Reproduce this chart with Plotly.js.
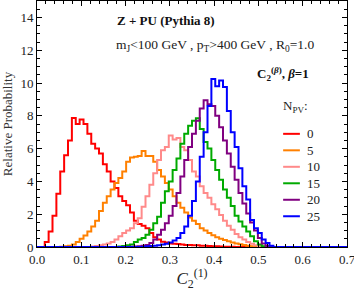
<!DOCTYPE html>
<html>
<head>
<meta charset="utf-8">
<script src="https://cdn.plot.ly/plotly-3.0.1.min.js"></script>
<style>html,body{margin:0;padding:0;background:#fff;}#chart{width:354px;height:291px;}</style>
</head>
<body>
<div id="chart"></div>
<script>
// Histogram: 80 bins on [0, 0.7]
const binWidth = 0.00875;
const nBins = 80;
const seriesNames = ["0", "5", "10", "15", "20", "25"];
const seriesColors = ["#ff0000", "#ff8000", "#ff8a8a", "#00aa00", "#800080", "#0000ff"];

const npv0 = [0,0,0.3,0.95,1.9,3.25,4.6,5.6,6.5,7.87,7.5,7.77,7.5,6.9,6.3,6.0,5.7,5.05,4.6,4.0,3.6,3.1,2.8,2.55,2.1,1.6,1.4,1.3,1.15,0.85,0.6,0.45,0.32,0.28,0.22,0.2,0.18,0.15,0.12,0.12,0.1,0.1,0.08,0.08,0.06,0.05,0.04,0.03,0.02,0.02,0.01,0,0,0,0,0,0,0,0,0,0,0,0,0,0,0,0,0,0,0,0,0,0,0,0,0,0,0,0,0];
const npv5 = [0,0,0,0,0,0,0.02,0.04,0.08,0.15,0.3,0.5,0.7,0.95,1.25,1.6,2.2,2.7,3.1,3.5,3.9,4.2,4.6,5.2,5.45,5.5,5.55,5.85,5.55,5.55,5.2,4.7,4.3,3.9,3.5,3.1,2.7,2.4,2.1,1.8,1.6,1.4,1.15,1.0,0.85,0.72,0.6,0.5,0.42,0.35,0.28,0.22,0.17,0.12,0.08,0.05,0.03,0.02,0,0,0,0,0,0,0,0,0,0,0,0,0,0,0,0,0,0,0,0,0,0];
const npv10 = [0,0,0,0,0,0,0,0,0,0,0,0,0,0,0.03,0.06,0.1,0.15,0.22,0.3,0.45,0.65,0.85,1.0,1.15,1.45,1.75,2.45,3.1,3.8,4.5,5.3,5.9,6.1,6.8,6.55,6.65,6.1,5.9,5.3,4.6,4.3,3.7,3.3,3.0,2.6,2.3,1.95,1.6,1.3,1.05,0.8,0.6,0.45,0.3,0.2,0.1,0.05,0.02,0,0,0,0,0,0,0,0,0,0,0,0,0,0,0,0,0,0,0,0,0];
const npv15 = [0,0,0,0,0,0,0,0,0,0,0,0,0,0,0,0,0,0,0,0,0,0.03,0.06,0.1,0.15,0.3,0.45,0.55,0.75,1.05,1.45,1.85,2.7,3.4,4.0,4.7,5.4,6.3,6.9,7.4,7.7,7.85,7.2,6.4,6.0,5.3,4.7,4.1,3.5,3.0,2.5,1.9,1.55,1.25,0.95,0.65,0.35,0.15,0.05,0,0,0,0,0,0,0,0,0,0,0,0,0,0,0,0,0,0,0,0,0];
const npv20 = [0,0,0,0,0,0,0,0,0,0,0,0,0,0,0,0,0,0,0,0,0,0,0,0,0.02,0.03,0.05,0.08,0.12,0.25,0.45,0.75,1.05,1.45,1.9,2.5,3.3,4.3,5.3,6.1,6.9,7.7,8.45,8.95,8.7,8.6,8.0,7.3,6.5,5.7,4.9,4.1,3.3,2.65,2.05,1.5,1.0,0.55,0.22,0.06,0,0,0,0,0,0,0,0,0,0,0,0,0,0,0,0,0,0,0,0];
const npv25 = [0,0,0,0,0,0,0,0,0,0,0,0,0,0,0,0,0,0,0,0,0,0,0,0,0,0,0,0,0.04,0.06,0.08,0.1,0.15,0.2,0.28,0.4,0.55,0.85,1.25,1.9,2.8,4.0,5.5,7.0,8.6,10.25,9.8,10.15,9.75,8.3,7.0,6.1,4.8,3.7,2.9,1.65,1.15,0.85,0.45,0.25,0.08,0,0,0,0,0,0,0,0,0,0,0,0,0,0,0,0,0,0,0];

const allSeries = [npv0, npv5, npv10, npv15, npv20, npv25];

const edges = [];
for (let k = 0; k <= nBins; k++) edges.push(+(k * binWidth).toFixed(5));

const serif = "Liberation Serif, Times New Roman, serif";

const traces = allSeries.map((vals, i) => ({
  type: "scatter",
  mode: "lines",
  x: edges,
  y: vals.concat([vals[vals.length - 1]]),
  line: { shape: "hv", color: seriesColors[i], width: 2 },
  name: seriesNames[i],
  showlegend: false,
  hoverinfo: "skip"
}));

const axisCommon = {
  showline: true, linecolor: "#000", linewidth: 1, mirror: "allticks",
  ticks: "inside", ticklen: 5, tickwidth: 1, tickcolor: "#000",
  showgrid: false, zeroline: false, ticklabeloverflow: "allow",
  tickfont: { family: serif, size: 13, color: "#222" }
};

// legend drawn as paper-positioned keys
const legendX0 = 0.794, legendX1 = 0.848, legendTextX = 0.864;
const legendTopY = 0.46, legendStep = 0.067;
const legendShapes = seriesNames.map((n, i) => ({
  type: "line", xref: "paper", yref: "paper",
  x0: legendX0, x1: legendX1,
  y0: legendTopY - i * legendStep, y1: legendTopY - i * legendStep,
  line: { color: seriesColors[i], width: 2 }
}));
const legendLabels = seriesNames.map((n, i) => ({
  text: n, xref: "paper", yref: "paper", x: legendTextX, y: legendTopY - i * legendStep,
  xanchor: "left", yanchor: "middle", showarrow: false,
  font: { family: serif, size: 13, color: "#222" }
}));

const layout = {
  width: 354, height: 291,
  margin: { l: 37, r: 7, t: 1, b: 44 },
  paper_bgcolor: "#fff", plot_bgcolor: "#fff",
  showlegend: false,
  xaxis: Object.assign({}, axisCommon, {
    range: [0, 0.7], dtick: 0.1, tickformat: ".1f",
    minor: { dtick: 0.02, ticks: "inside", ticklen: 3, tickcolor: "#000", showgrid: false },
    title: { text: "<i>C</i><sub>2</sub><sup>(1)</sup>", font: { family: serif, size: 17, color: "#222" }, standoff: 6 }
  }),
  yaxis: Object.assign({}, axisCommon, {
    range: [0, 15], dtick: 2,
    minor: { dtick: 0.5, ticks: "inside", ticklen: 3, tickcolor: "#000", showgrid: false },
    title: { text: "Relative Probability", font: { family: serif, size: 13, color: "#333" }, standoff: 4 }
  }),
  shapes: legendShapes,
  annotations: [
    { text: "<b>Z + PU (Pythia 8)</b>", x: 0.416, y: 0.919, xref: "paper", yref: "paper", xanchor: "center", yanchor: "middle", showarrow: false, font: { family: serif, size: 13, color: "#111" } },
    { text: "m<sub>J</sub>&lt;100 GeV , p<sub>T</sub>&gt;400 GeV , R<sub>0</sub>=1.0", x: 0.574, y: 0.821, xref: "paper", yref: "paper", xanchor: "center", yanchor: "middle", showarrow: false, font: { family: serif, size: 13.5, color: "#222" } },
    { text: "<b>C<sub>2</sub><sup>(<i>β</i>)</sup>, <i>β</i>=1</b>", x: 0.884, y: 0.704, xref: "paper", yref: "paper", xanchor: "right", yanchor: "middle", showarrow: false, font: { family: serif, size: 13, color: "#111" } },
    { text: "N<sub>PV</sub>:", x: 0.834, y: 0.57, xref: "paper", yref: "paper", xanchor: "center", yanchor: "middle", showarrow: false, font: { family: serif, size: 13, color: "#222" } }
  ].concat(legendLabels)
};

Plotly.newPlot("chart", traces, layout, { staticPlot: true, displayModeBar: false });
</script>
</body>
</html>
